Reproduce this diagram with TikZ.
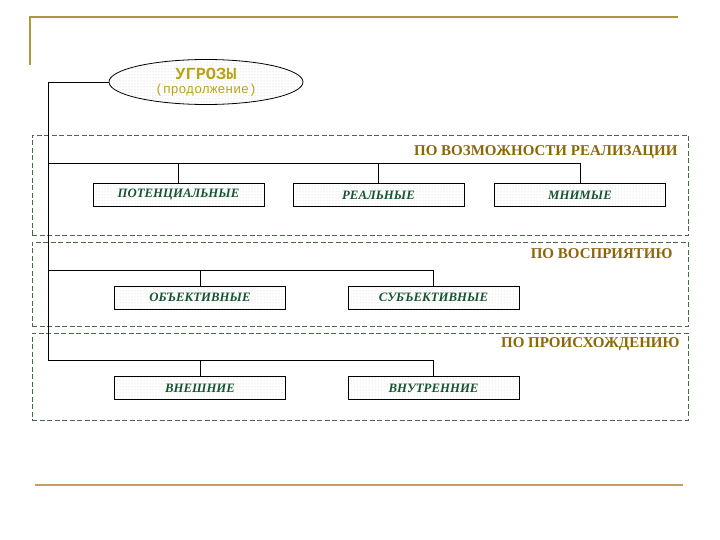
\documentclass[tikz,border=0pt]{standalone}
\usepackage{fontspec}
\setmainfont{Liberation Serif}
\setmonofont{Liberation Mono}
\usetikzlibrary{patterns,shapes.geometric}

\definecolor{framegold}{RGB}{176,150,64}
\definecolor{rulegold}{RGB}{192,160,96}
\definecolor{headgold}{RGB}{140,102,10}
\definecolor{titlegold}{RGB}{186,164,20}
\definecolor{itemgreen}{RGB}{22,84,52}
\definecolor{groupgreen}{RGB}{72,104,72}

\begin{document}
\begin{tikzpicture}[x=1pt, y=-1pt,
    wire/.style={line width=0.9pt},
    groupbox/.style={draw=groupgreen, dash pattern=on 5pt off 2.5pt, line width=0.7pt, minimum width=656pt},
    head/.style={anchor=east, font=\fontsize{15}{17}\selectfont\bfseries, text=headgold},
    item/.style={draw, line width=0.8pt, pattern=dots, pattern color=black!18,
      minimum width=171pt, minimum height=23pt, inner sep=0pt,
      font=\fontsize{12.8}{14}\selectfont\bfseries\itshape, text=itemgreen}
]
  \useasboundingbox (0,0) rectangle (720,540);

  % gold frame
  \draw[framegold, line width=2pt] (30,65) -- (30,17) -- (678,17);
  \draw[rulegold, line width=2pt] (35,485) -- (683,485);

  % groups
  \node[groupbox, minimum height=100pt] (g1) at (360,185) {};
  \node[groupbox, minimum height=84pt] (g2) at (360,284) {};
  \node[groupbox, minimum height=87pt] (g3) at (360,376.5) {};

  \node[head] (h1) at (681,152) {ПО ВОЗМОЖНОСТИ РЕАЛИЗАЦИИ};
  \node[head] (h2) at (676,254) {ПО ВОСПРИЯТИЮ};
  \node[head] (h3) at (683,344) {ПО ПРОИСХОЖДЕНИЮ};

  % root
  \node[ellipse, draw, line width=0.8pt, pattern=dots, pattern color=black!22,
    minimum width=194pt, minimum height=45pt, inner sep=0pt, align=center,
    font=\ttfamily] (threat) at (206,82)
    {{\fontsize{17}{17}\selectfont\bfseries\color{titlegold}УГРОЗЫ}\\[2pt]
     {\fontsize{13}{13}\selectfont\color{titlegold}(продолжение)}};

  % items
  \node[item] (pot) at (178.5,195) {ПОТЕНЦИАЛЬНЫЕ};
  \node[item] (real) at (378.5,195) {РЕАЛЬНЫЕ};
  \node[item] (mnim) at (580,195) {МНИМЫЕ};
  \node[item] (obj) at (200,297.5) {ОБЪЕКТИВНЫЕ};
  \node[item] (subj) at (433.5,297.5) {СУБЪЕКТИВНЫЕ};
  \node[item] (vnesh) at (200,388) {ВНЕШНИЕ};
  \node[item] (vnutr) at (433.5,388) {ВНУТРЕННИЕ};

  % buses
  \coordinate (b1) at (48,163);
  \coordinate (b2) at (48,270);
  \coordinate (b3) at (48,360);

  \draw[wire] (threat.west) -| (b3);
  \draw[wire] (b1) -| (mnim.north);
  \draw[wire] (b2) -| (subj.north);
  \draw[wire] (b3) -| (vnutr.north);
  \foreach \n/\b in {pot/b1,real/b1,obj/b2,vnesh/b3}
    \draw[wire] (\n.north) -- (\n.north |- \b);
\end{tikzpicture}
\end{document}
